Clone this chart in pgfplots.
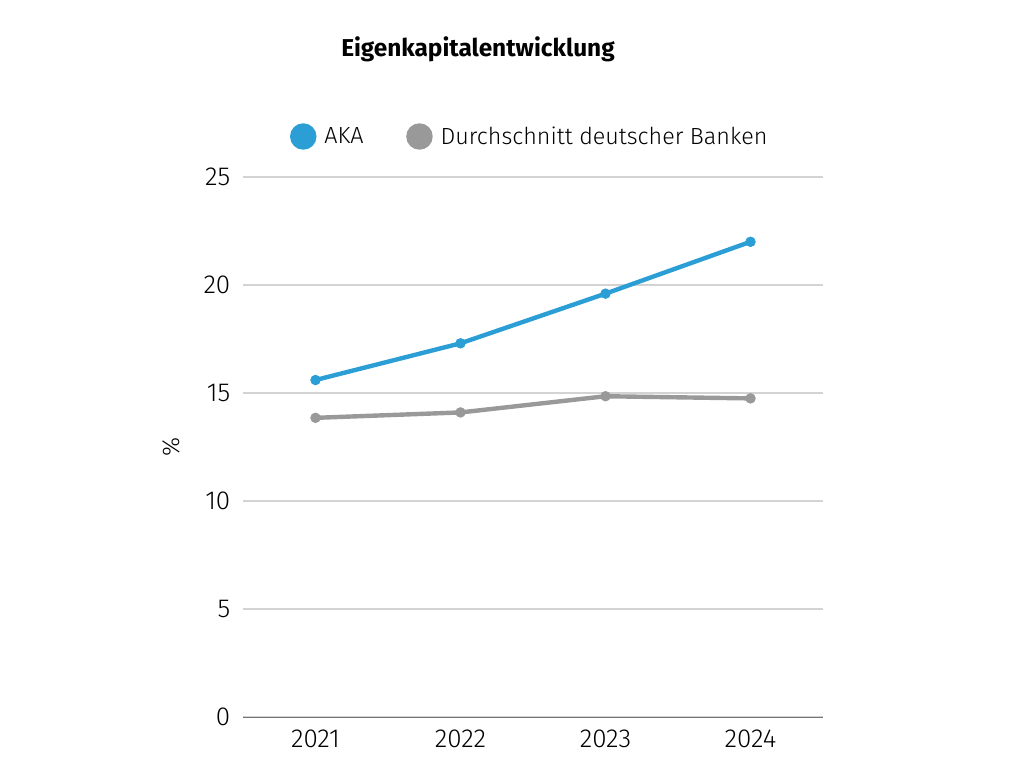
\documentclass[border=0pt]{standalone}
\usepackage{fontspec}
\setmainfont{Fira Sans}[UprightFont=* Light, BoldFont=* Bold]
\usepackage{pgfplots}
\pgfplotsset{compat=1.18}
\definecolor{akablue}{HTML}{2B9ED5}
\definecolor{bankgrey}{HTML}{999999}
\definecolor{gridgrey}{HTML}{D3D3D3}
\begin{document}
\begin{tikzpicture}
\path (0,0) rectangle (768pt,576pt);
\node[font=\fontsize{18.3}{20}\selectfont\bfseries] at (358.5pt,539pt) {Eigenkapitalentwicklung};
\begin{axis}[
  at={(182.25pt,38.25pt)}, anchor=south west,
  scale only axis, width=435pt, height=405pt,
  xmin=-0.5, xmax=3.5, ymin=0, ymax=25,
  xtick={0,1,2,3}, xticklabels={2021,2022,2023,2024},
  ytick={0,5,10,15,20,25},
  /pgf/number format/assume math mode=true,
  tick label style={font=\fontsize{19.5}{22}\selectfont},
  major tick length=0pt,
  axis x line*=bottom, axis y line*=left,
  y axis line style={draw=none},
  x axis line style={draw=black!55, line width=0.75pt},
  ymajorgrids, grid style={gridgrey, line width=0.9pt},
  yticklabel style={xshift=-6pt},
  xticklabel style={yshift=-6pt},
  ylabel={\%}, ylabel style={font=\fontsize{18}{20}\selectfont, at={(axis description cs:-0.1,0.5)}},
  legend columns=-1,
  legend style={draw=none, fill=none, at={(0.495,1.075)}, anchor=center,
    font=\fontsize{17.5}{20}\selectfont, /tikz/every even column/.append style={column sep=30pt},
    /tikz/every odd column/.append style={column sep=4pt}},
  legend image code/.code={\fill[#1] (0pt,0) circle (8.25pt);},
]
\addplot[akablue, line width=3.3pt, mark=*, mark size=3.6pt, mark options={solid, fill=akablue, draw=akablue, line width=0.6pt}] coordinates {
  (0,15.6) (1,17.3) (2,19.6) (3,22.0)
};
\addlegendentry{AKA}
\addplot[bankgrey, line width=3.3pt, mark=*, mark size=3.6pt, mark options={solid, fill=bankgrey, draw=bankgrey, line width=0.6pt}] coordinates {
  (0,13.85) (1,14.1) (2,14.85) (3,14.75)
};
\addlegendentry{Durchschnitt deutscher Banken}
\end{axis}
\end{tikzpicture}
\end{document}
